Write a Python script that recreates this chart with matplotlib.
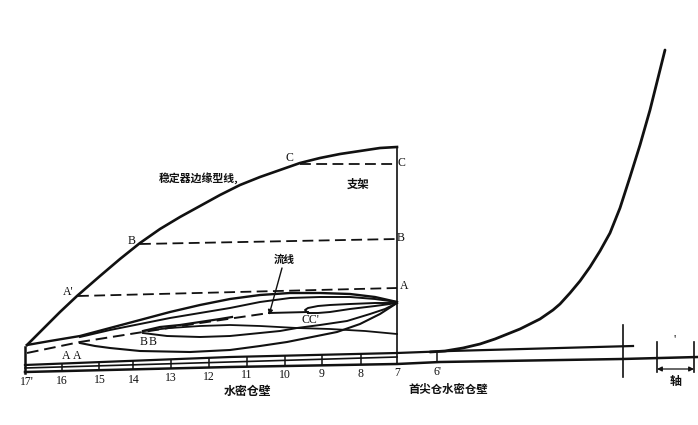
#!/usr/bin/python
import matplotlib
matplotlib.use("Agg")
import matplotlib.pyplot as plt

plt.rcParams['font.family'] = ['Noto Sans CJK SC', 'DejaVu Sans']

# curves, in pixels
edge_x = [27, 40, 60, 77, 100, 120, 140, 160, 180, 200, 220, 240, 260, 280, 300, 320, 340, 360, 380, 397]
edge_y = [345, 332, 312, 296, 276, 259, 243, 229, 217, 206, 195, 185, 177, 170, 163, 158, 154, 151, 148, 147]

upper1_x = [27, 50, 80, 110, 140, 170, 200, 230, 260, 290, 320, 350, 375, 397]
upper1_y = [345, 341, 336, 328, 320, 312, 305, 299, 295, 293, 293, 294, 297, 302]
upper2_x = [80, 110, 140, 170, 200, 230, 260, 290, 320, 350, 375, 397]
upper2_y = [337, 330, 324, 318, 313, 308, 302, 298, 297, 297, 299, 302]

branch_x = [143, 160, 180, 200, 220, 232]
branch_y = [331, 327, 325, 322, 319, 317]
stream_x = [27, 80, 143, 200, 269]
stream_y = [353, 342, 332, 323, 313]
stream2_x = [143, 170, 200, 230, 260, 297, 330, 365, 397]
stream2_y = [331, 328, 326, 325, 326, 328, 329, 331, 334]

lowerb_x = [143, 167, 200, 230, 260, 280, 297, 320, 347, 370, 385, 397]
lowerb_y = [333, 336, 337, 336, 333, 331, 328, 325, 321, 314, 309, 303]
lowera_x = [80, 95, 110, 140, 190, 230, 260, 287, 312, 337, 360, 380, 397]
lowera_y = [343, 346, 348, 351, 352, 350, 346, 342, 337, 332, 324, 314, 303]

lead_x = [269, 308]
lead_y = [313, 312]
lens_x = [308, 305, 308, 318, 330, 350, 375, 397, 375, 350, 330, 318, 308]
lens_y = [313, 310, 308, 306, 305, 304, 303, 303, 306, 309, 312, 313, 313]

hull1_x = [25, 230, 397, 450, 633]
hull1_y = [365, 357, 353, 351, 346]
hull2_x = [25, 230, 397]
hull2_y = [368, 362, 357]
hull3_x = [25, 230, 397, 440, 622, 698]
hull3_y = [372, 367, 364, 362, 359, 357]

bow_x = [430, 445, 463, 480, 495, 510, 520, 530, 540, 553, 560, 570, 580, 590, 600, 610, 620, 630, 640, 650, 660, 665]
bow_y = [352, 351, 348, 344, 339, 333, 329, 324, 319, 310, 304, 293, 281, 267, 251, 233, 208, 177, 145, 110, 70, 50]

# dashed chords from the edge to the post
dash_x0 = [78, 140, 300]
dash_y0 = [296, 244, 164]
dash_y1 = [288, 239, 164]

rib_x = [62, 99, 133, 171, 209, 247, 285, 322, 361]
rib_top = [363, 362, 360, 359, 358, 356, 356, 355, 354]
rib_bot = [371, 370, 370, 369, 368, 367, 366, 366, 365]
rib_labels = ['16', '15', '14', '13', '12', '11', '10', '9', '8', '7', "6'"]
label_x = [62, 100, 134, 171, 209, 247, 285, 322, 361, 397, 437]
label_y = [381, 380, 380, 378, 377, 375, 375, 374, 374, 373, 372]

fig = plt.figure(figsize=(6.98, 4.25), dpi=100)
ax = fig.add_axes([0, 0, 1, 1])
ax.set_xlim(0, 698)
ax.set_ylim(425, 0)
ax.axis('off')

k = '#111111'
ax.plot(edge_x, edge_y, color=k, lw=1.9)
ax.plot(bow_x, bow_y, color=k, lw=2.0, solid_capstyle='round')
ax.plot(upper1_x, upper1_y, color=k, lw=1.7)
ax.plot(upper2_x, upper2_y, color=k, lw=1.4)
ax.plot(branch_x, branch_y, color=k, lw=1.6)
ax.plot(stream_x, stream_y, color=k, lw=1.4, dashes=(6, 3))
ax.plot(stream2_x, stream2_y, color=k, lw=1.3)
ax.plot(lowerb_x, lowerb_y, color=k, lw=1.4)
ax.plot(lowera_x, lowera_y, color=k, lw=1.5)
ax.plot(lead_x, lead_y, color=k, lw=1.4)
ax.plot(lens_x, lens_y, color=k, lw=1.4)

ax.plot(hull1_x, hull1_y, color=k, lw=1.6)
ax.plot(hull2_x, hull2_y, color=k, lw=1.2)
ax.plot(hull3_x, hull3_y, color=k, lw=1.8)

# stem post and frame at 17
ax.plot([397, 397], [147, 364], color=k, lw=1.2)
ax.plot([25, 25], [347, 373], color=k, lw=1.8)
ax.vlines(rib_x, rib_top, rib_bot, color=k, lw=1.1)
ax.plot([437, 437], [352, 362], color=k, lw=1.1)

for x0, y0, y1 in zip(dash_x0, dash_y0, dash_y1):
    ax.plot([x0, 397], [y0, y1], color=k, lw=1.3, dashes=(6, 3))

# right side ticks and spacing arrow
ax.plot([623, 623], [325, 377], color=k, lw=1.2)
ax.plot([657, 657], [342, 372], color=k, lw=1.2)
ax.plot([694, 694], [342, 372], color=k, lw=1.2)
ax.annotate('', xy=(657, 369), xytext=(694, 369),
            arrowprops=dict(arrowstyle='<|-|>', color=k, lw=0.9, mutation_scale=7,
                            shrinkA=0, shrinkB=0))
ax.annotate('', xy=(269, 315), xytext=(282, 268),
            arrowprops=dict(arrowstyle='-|>', color=k, lw=1.0, mutation_scale=7,
                            shrinkA=0, shrinkB=0))

# letters
serif = 'Liberation Serif'
ax.text(27, 382, "17'", family=serif, fontsize=8.5, ha='center', va='center', color=k)
for s, x, y in zip(rib_labels, label_x, label_y):
    ax.text(x, y, s, family=serif, fontsize=8.5, ha='center', va='center', color=k)
for s, x, y in [("A'", 68, 292), ('B', 132, 241), ('C', 289, 158), ('C', 401, 163),
                ('B', 401, 238), ('A', 404, 286), ('A', 66, 356), ('A', 77, 356),
                ('B', 144, 342), ('B', 153, 342), ("CC'", 310, 320)]:
    ax.text(x, y, s, family=serif, fontsize=8.5, ha='center', va='center', color=k)

# chinese labels
for s, x, y, fs in [('稳定器边缘型线,', 199, 178, 7.8), ('支架', 358, 184, 8.2),
                    ('流线', 284, 260, 7.6), ('水密仓壁', 247, 392, 8.6),
                    ('首尖仓水密仓壁', 448, 390, 8.2), ('轴', 676, 381, 8.6)]:
    ax.text(x, y, s, fontsize=fs, ha='center', va='center', color=k, fontweight='bold')
ax.text(675, 340, "'", family=serif, fontsize=9, ha='center', va='center', color=k)

fig.savefig('out.png', dpi=100)
